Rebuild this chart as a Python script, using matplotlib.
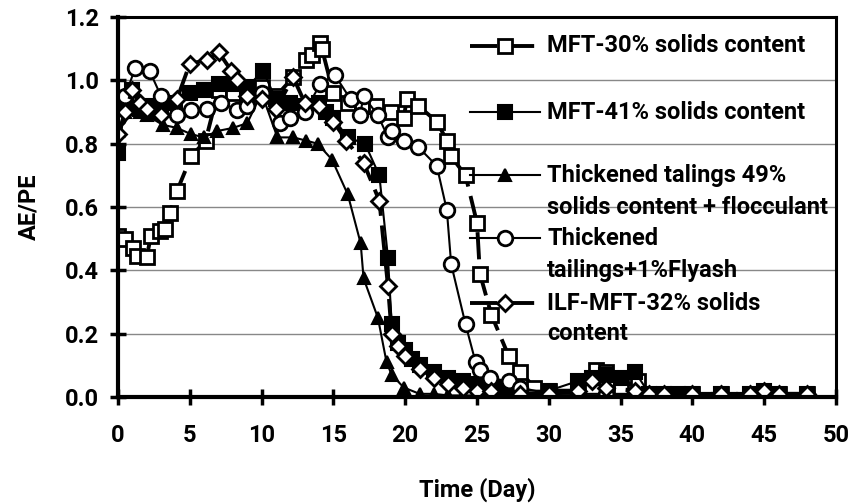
import matplotlib
matplotlib.use("Agg")
import matplotlib.pyplot as plt
from matplotlib.lines import Line2D

# MFT-30% solids content (open squares)
t_mft30 = [0, 0.5, 1.07, 1.3, 2.0, 2.3, 2.9, 3.3, 3.6, 4.1, 5.1, 6.1, 7, 8, 9, 10, 11,
           12.2, 13.1, 13.5, 14.1, 14.2, 15, 16, 17, 18, 19, 19.9, 20.1, 20.9, 22.2,
           22.9, 23.2, 24.2, 25.0, 25.2, 26.0, 27.2, 28.0, 29, 30, 32, 33.3, 34, 35,
           36.2, 37, 38, 40, 42, 44.5, 45, 46, 48]
y_mft30 = [0.51, 0.50, 0.47, 0.445, 0.443, 0.51, 0.525, 0.53, 0.58, 0.65, 0.76, 0.81,
           0.97, 0.96, 0.95, 0.98, 0.95, 1.01, 1.064, 1.08, 1.117, 1.10, 0.96, 0.93,
           0.92, 0.92, 0.90, 0.88, 0.94, 0.92, 0.87, 0.81, 0.76, 0.70, 0.55, 0.39,
           0.26, 0.13, 0.08, 0.03, 0.02, 0.02, 0.085, 0.08, 0.03, 0.05, 0.01, 0.01,
           0.01, 0.01, 0.01, 0.01, 0.01, 0.01]

# MFT-41% solids content (filled squares)
t_mft41 = [0, 0.5, 1, 1.5, 2, 2.5, 3, 4, 5, 6, 7, 8, 9, 10.1, 11, 12, 13, 14, 14.5,
           15, 16, 17.2, 18.2, 18.8, 19.06, 19.5, 20, 20.5, 21, 22, 23, 24, 25, 26,
           27, 28, 30, 32, 33, 34, 35, 36, 37, 38, 39, 40, 42, 44, 45, 46, 48]
y_mft41 = [0.77, 0.92, 0.97, 0.91, 0.92, 0.90, 0.91, 0.93, 0.96, 0.97, 0.99, 0.99,
           0.98, 1.03, 0.94, 0.93, 0.92, 0.93, 0.90, 0.88, 0.82, 0.80, 0.70, 0.44,
           0.23, 0.17, 0.15, 0.12, 0.10, 0.08, 0.06, 0.05, 0.04, 0.03, 0.03, 0.02,
           0.02, 0.05, 0.06, 0.07, 0.06, 0.08, 0.01, 0.01, 0.01, 0.01, 0.01, 0.01,
           0.02, 0.01, 0.01]

# Thickened talings 49% solids content + flocculant (filled triangles)
t_thick = [0, 0.5, 1, 1.5, 2, 3.1, 4.1, 5.1, 6, 6.9, 8.0, 9.0, 10, 11.1, 12.2, 13.1,
           13.9, 14.9, 16.0, 16.9, 17.1, 18.1, 18.7, 19.06, 19.9, 21, 22, 23, 24, 25,
           26, 28, 30, 32, 34, 36, 38, 40, 42, 44, 46, 48]
y_thick = [0.84, 0.90, 0.93, 0.90, 0.89, 0.86, 0.85, 0.83, 0.82, 0.84, 0.85, 0.865,
           0.96, 0.82, 0.82, 0.81, 0.80, 0.75, 0.64, 0.485, 0.375, 0.25, 0.11, 0.07,
           0.03, 0.01, 0.01, 0.005, 0.005, 0.005, 0.005, 0.005, 0.005, 0.005, 0.005,
           0.005, 0.005, 0.005, 0.005, 0.005, 0.005, 0.005]

# Thickened tailings + 1% Flyash (open circles)
t_flyash = [0, 0.5, 1.2, 2.2, 3, 4.1, 5.1, 6.2, 7.2, 8.3, 9, 10, 11.3, 12, 13, 14.1,
            15.1, 16.2, 16.85, 17.1, 18.1, 18.8, 19.06, 19.9, 20.9, 22.2, 22.9, 23.2,
            24.2, 24.9, 25.2, 25.9, 27.2, 28, 30, 32, 34, 36, 38, 40, 42, 44, 46, 48]
y_flyash = [0.88, 0.95, 1.04, 1.03, 0.95, 0.89, 0.906, 0.91, 0.93, 0.906, 0.92, 0.96,
            0.864, 0.88, 0.90, 0.99, 1.017, 0.94, 0.89, 0.95, 0.89, 0.82, 0.84, 0.81,
            0.79, 0.73, 0.59, 0.42, 0.23, 0.11, 0.085, 0.06, 0.05, 0.03, 0.01, 0.01,
            0.01, 0.01, 0.005, 0.005, 0.005, 0.005, 0.005, 0.005]

# ILF-MFT-32% solids content (open diamonds)
t_ilf = [0, 0.5, 1, 1.5, 2, 3, 4.1, 5.0, 6.2, 7.0, 7.9, 8.3, 9, 10, 11, 12.2, 13, 14,
         15, 15.9, 17.1, 18.2, 18.8, 19.06, 19.5, 20, 21, 22, 23, 24, 25, 26, 28, 30,
         32, 33, 34, 36, 37, 38, 40, 42, 44, 45, 46, 48]
y_ilf = [0.83, 0.90, 0.97, 0.93, 0.91, 0.89, 0.94, 1.053, 1.064, 1.09, 1.03, 1.0, 0.95,
         0.94, 0.91, 1.01, 0.93, 0.92, 0.87, 0.81, 0.74, 0.62, 0.35, 0.20, 0.16, 0.13,
         0.09, 0.06, 0.04, 0.03, 0.02, 0.02, 0.01, 0.01, 0.02, 0.05, 0.03, 0.02, 0.01,
         0.01, 0.01, 0.01, 0.01, 0.02, 0.01, 0.01]

labels = ["MFT-30% solids content",
          "MFT-41% solids content",
          "Thickened talings 49%\nsolids content + flocculant",
          "Thickened\ntailings+1%Flyash",
          "ILF-MFT-32% solids\ncontent"]

plt.rcParams['font.family'] = ['Roboto', 'DejaVu Sans']
plt.rcParams['font.weight'] = 'bold'
FS = 17

fig = plt.figure(figsize=(8.57, 5.03), dpi=100)
ax = fig.add_axes([0.1377, 0.2107, 0.8378, 0.7553])

dash = (0, (7, 2.5))
styles = [
    dict(lw=2.8, ls=dash, marker='s', ms=9.5, mfc='white', mew=2),
    dict(lw=1.5, ls='-', marker='s', ms=9.5, mfc='black', mew=1.5),
    dict(lw=1.5, ls='-', marker='^', ms=8.5, mfc='black', mew=1.5),
    dict(lw=1.5, ls='-', marker='o', ms=10.5, mfc='white', mew=2),
    dict(lw=2.8, ls=dash, marker='D', ms=8.5, mfc='white', mew=2),
]
series = [(t_mft30, y_mft30), (t_mft41, y_mft41), (t_thick, y_thick),
          (t_flyash, y_flyash), (t_ilf, y_ilf)]

for (t, y), st, lab in zip(series, styles, labels):
    ax.plot(t, y, color='black', mec='black', label=lab, **st)

ax.set_xlim(0, 50)
ax.set_ylim(0, 1.2)
ax.set_xticks(range(0, 51, 5))
yt = [0.0, 0.2, 0.4, 0.6, 0.8, 1.0, 1.2]
ax.set_yticks(yt)
ax.set_yticklabels([f"{v:.1f}" for v in yt])
ax.yaxis.grid(True, color='#888888', lw=1)
ax.set_axisbelow(True)

for side in ['left', 'bottom']:
    ax.spines[side].set_linewidth(3)
for side in ['top', 'right']:
    ax.spines[side].set_linewidth(2.2)
ax.tick_params(axis='both', direction='inout', length=11, width=2.5, labelsize=FS)
ax.tick_params(axis='x', pad=14)
ax.tick_params(axis='y', pad=8)
for lab in ax.get_xticklabels() + ax.get_yticklabels():
    lab.set_fontweight('bold')

ax.set_xlabel("Time (Day)", fontsize=FS, fontweight='bold', labelpad=22)
ax.set_ylabel("AE/PE", fontsize=FS, fontweight='bold', labelpad=18)

# legend drawn by hand so the handles sit on the first line of each label
line_y = [[0.924], [0.75], [0.584, 0.50], [0.418, 0.334], [0.247, 0.166]]
hx0, hx1, tx = 0.490, 0.588, 0.5975
for st, lab, ys in zip(styles, labels, line_y):
    h = Line2D([hx0, (hx0 + hx1) / 2, hx1], [ys[0]] * 3, transform=ax.transAxes,
               color='black', mec='black', markevery=[1], **st)
    ax.add_line(h)
    for part, yy in zip(lab.split("\n"), ys):
        ax.text(tx, yy, part, transform=ax.transAxes, fontsize=FS,
                fontweight='bold', va='center', ha='left')

fig.savefig("out.png", dpi=100)
